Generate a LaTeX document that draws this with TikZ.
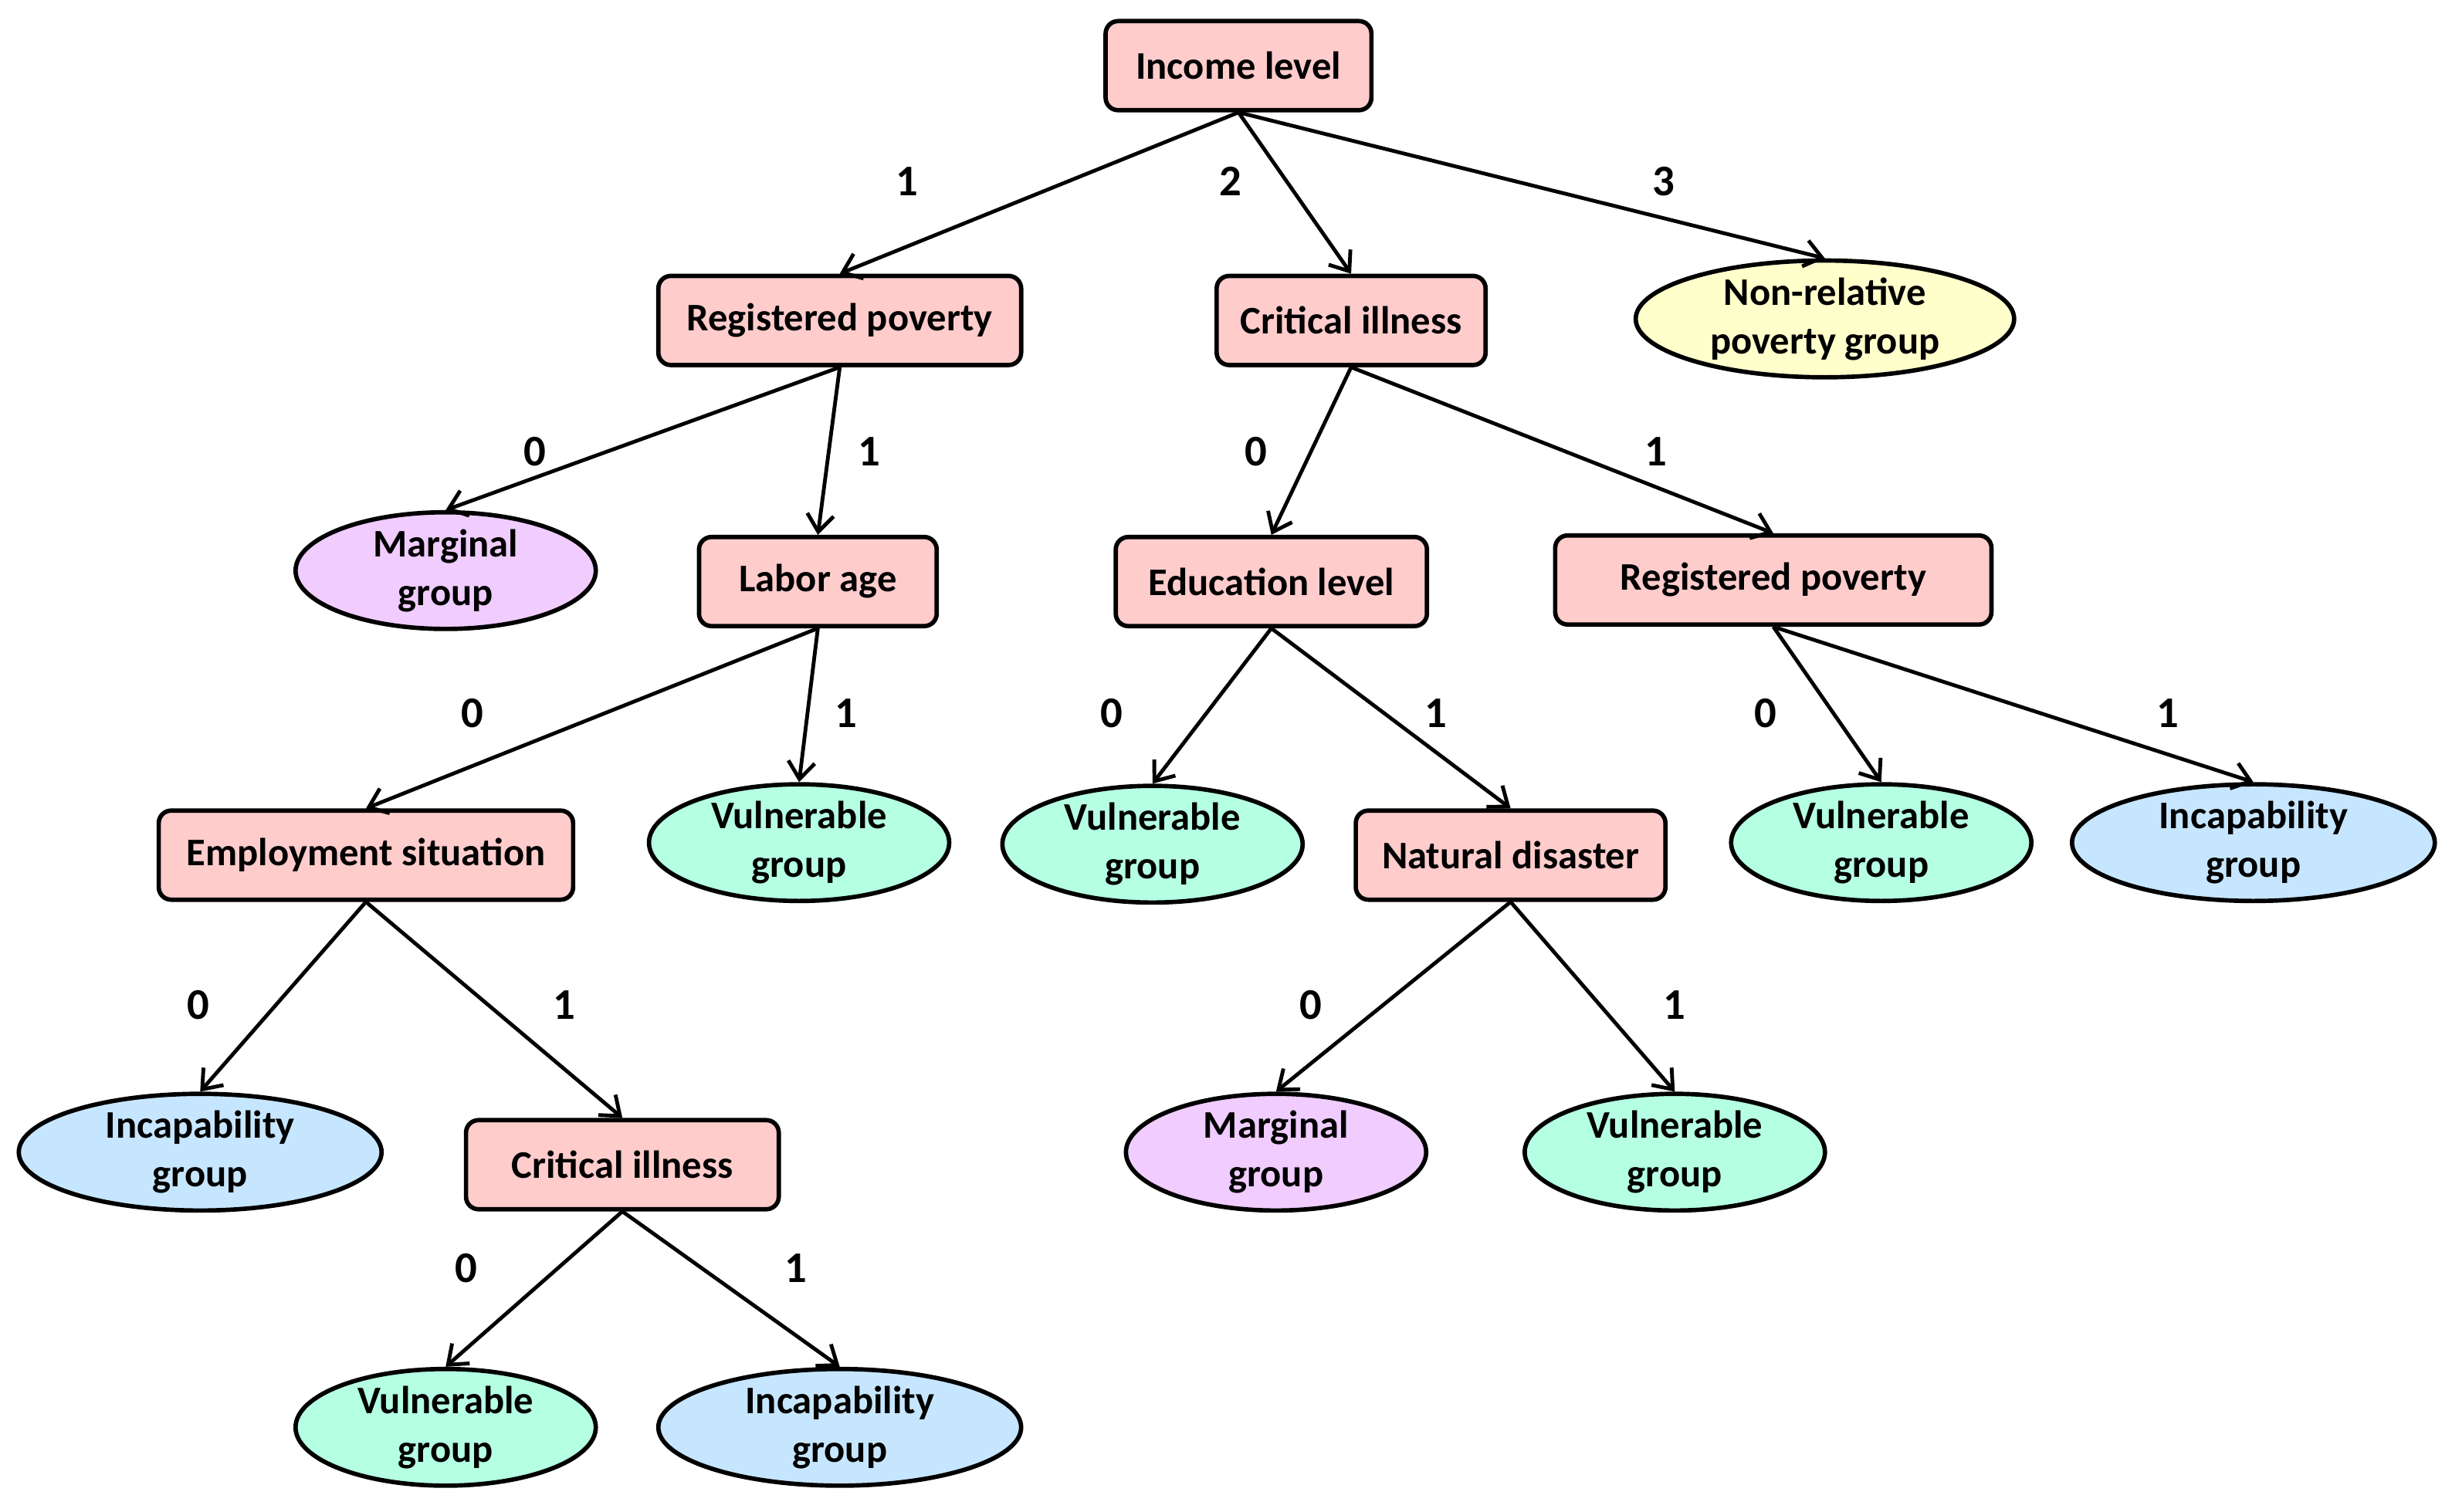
\documentclass[tikz,border=0pt]{standalone}
\usepackage{fontspec}
\setmainfont{Carlito}
\usetikzlibrary{shapes.geometric,arrows.meta}
\definecolor{pinkf}{HTML}{FFCCCC}
\definecolor{purplef}{HTML}{F0CCFF}
\definecolor{greenf}{HTML}{B5FFE3}
\definecolor{bluef}{HTML}{C6E6FF}
\definecolor{yellowf}{HTML}{FFFFCC}
\begin{document}
\begin{tikzpicture}[x=0.5pt,y=-0.5pt,
  font=\bfseries\fontsize{12.5}{15.5}\selectfont,
  box/.style={draw, line width=1.4pt, rounded corners=4pt, fill=pinkf, minimum height=28.5pt, inner sep=0pt},
  grp/.style={ellipse, draw, line width=1.4pt, minimum height=35pt, minimum width=96pt, inner sep=0pt, align=center},
  marg/.style={grp, fill=purplef},
  vuln/.style={grp, fill=greenf},
  incap/.style={grp, fill=bluef, minimum width=116pt},
  edge/.style={-{Straight Barb[length=5.5pt,width=8.5pt]}, line width=1.2pt},
  lbl/.style={font=\bfseries\fontsize{14}{16}\selectfont, inner sep=0pt}]
\useasboundingbox (0,0) rectangle (1568,966.7);
% decision nodes
\node[box, minimum width=85pt] (inc) at (792,42) {Income level};
\node[box, minimum width=116pt] (rp1) at (537,205) {Registered poverty};
\node[box, minimum width=86pt] (ci1) at (864,205) {Critical illness};
\node[grp, fill=yellowf, minimum width=121pt, minimum height=36pt] (nr) at (1167,204) {Non-relative\\poverty group};
\node[marg] (mg1) at (285,365) {Marginal\\group};
\node[box, minimum width=76pt] (la) at (523,372) {Labor age};
\node[box, minimum width=99.5pt] (el) at (813,372) {Education level};
\node[box, minimum width=139.5pt] (rp2) at (1134,371) {Registered poverty};
\node[box, minimum width=132.5pt] (es) at (234,547) {Employment situation};
\node[vuln] (vg1) at (511,539) {Vulnerable\\group};
\node[vuln] (vg2) at (737,540) {Vulnerable\\group};
\node[box, minimum width=99pt] (nd) at (966,547) {Natural disaster};
\node[vuln] (vg3) at (1203,539) {Vulnerable\\group};
\node[incap] (ig1) at (1441,539) {Incapability\\group};
\node[incap] (ig2) at (128,737) {Incapability\\group};
\node[box, minimum width=100pt] (ci2) at (398,745) {Critical illness};
\node[marg] (mg2) at (816,737) {Marginal\\group};
\node[vuln] (vg4) at (1071,737) {Vulnerable\\group};
\node[vuln] (vg5) at (285,913) {Vulnerable\\group};
\node[incap] (ig3) at (537,913) {Incapability\\group};
% connectors
\draw[edge] (inc.south) -- (rp1.north);
\draw[edge] (inc.south) -- (ci1.north);
\draw[edge] (inc.south) -- (nr.north);
\draw[edge] (rp1.south) -- (mg1.north);
\draw[edge] (rp1.south) -- (la.north);
\draw[edge] (ci1.south) -- (el.north);
\draw[edge] (ci1.south) -- (rp2.north);
\draw[edge] (la.south) -- (es.north);
\draw[edge] (la.south) -- (vg1.north);
\draw[edge] (el.south) -- (vg2.north);
\draw[edge] (el.south) -- (nd.north);
\draw[edge] (rp2.south) -- (vg3.north);
\draw[edge] (rp2.south) -- (ig1.north);
\draw[edge] (es.south) -- (ig2.north);
\draw[edge] (es.south) -- (ci2.north);
\draw[edge] (nd.south) -- (mg2.north);
\draw[edge] (nd.south) -- (vg4.north);
\draw[edge] (ci2.south) -- (vg5.north);
\draw[edge] (ci2.south) -- (ig3.north);
% branch labels
\node[lbl] (a1) at (580,116) {1};
\node[lbl] (a2) at (787,116) {2};
\node[lbl] (a3) at (1064,116) {3};
\node[lbl] (b0) at (342,289) {0};
\node[lbl] (b1) at (556,289) {1};
\node[lbl] (c0) at (803,289) {0};
\node[lbl] (c1) at (1059,289) {1};
\node[lbl] (d0) at (302,456) {0};
\node[lbl] (d1) at (541,456) {1};
\node[lbl] (e0) at (711,456) {0};
\node[lbl] (e1) at (918,456) {1};
\node[lbl] (f0) at (1129,456) {0};
\node[lbl] (f1) at (1386,456) {1};
\node[lbl] (g0) at (127,643) {0};
\node[lbl] (g1) at (361,643) {1};
\node[lbl] (h0) at (838,643) {0};
\node[lbl] (h1) at (1071,643) {1};
\node[lbl] (i0) at (298,811) {0};
\node[lbl] (i1) at (509,811) {1};
\end{tikzpicture}
\end{document}
